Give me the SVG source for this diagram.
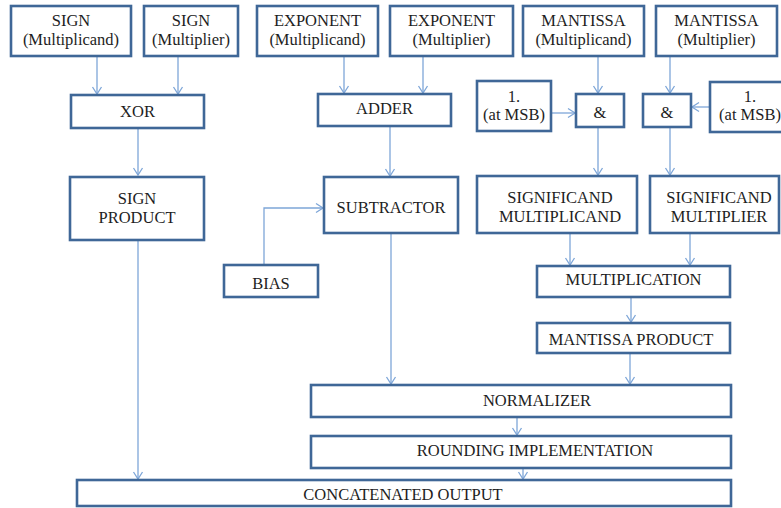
<svg xmlns="http://www.w3.org/2000/svg" width="781" height="508" viewBox="0 0 781 508">
<defs>
<marker id="arr" markerUnits="userSpaceOnUse" markerWidth="12" markerHeight="12" viewBox="-10 -6 12 12" refX="0" refY="0" orient="auto">
<polyline points="-7,-4.5 0,0 -7,4.5" fill="none" stroke="#7ea6d8" stroke-width="1.3"/>
</marker>
</defs>
<style>
.b{fill:#fff;stroke:#3f6797;stroke-width:2.6}
.t{font-size:16.5px;fill:#1e1e1e;text-anchor:middle}
.c{fill:none;stroke:#7ea6d8;stroke-width:1.3;marker-end:url(#arr)}
</style>
<rect width="781" height="508" fill="#fff"/>
<g id="connectors">
<path class="c" d="M97,57V94"/>
<path class="c" d="M178,57V94"/>
<path class="c" d="M138,128V175"/>
<path class="c" d="M138,240V479"/>
<path class="c" d="M344,56V93"/>
<path class="c" d="M423,56V93"/>
<path class="c" d="M390,126V176"/>
<path class="c" d="M264,265V208H323"/>
<path class="c" d="M391,233V384"/>
<path class="c" d="M598,56V93"/>
<path class="c" d="M670,56V93"/>
<path class="c" d="M551,113H575"/>
<path class="c" d="M710,107H692"/>
<path class="c" d="M598,127V175"/>
<path class="c" d="M670,127V175"/>
<path class="c" d="M570,233V265"/>
<path class="c" d="M690,233V265"/>
<path class="c" d="M631,297V322"/>
<path class="c" d="M630,353V384"/>
<path class="c" d="M517,417V435"/>
<path class="c" d="M523,468V479"/>
</g>
<g font-family="Liberation Serif, serif">
<g id="sign-multiplicand"><rect class="b" x="11" y="6" width="120" height="50"/><text class="t" x="71" y="26">SIGN</text><text class="t" x="71" y="45">(Multiplicand)</text></g>
<g id="sign-multiplier"><rect class="b" x="144" y="6" width="94" height="50"/><text class="t" x="191" y="26">SIGN</text><text class="t" x="191" y="45">(Multiplier)</text></g>
<g id="exp-multiplicand"><rect class="b" x="257" y="6" width="121" height="50"/><text class="t" x="317.5" y="26">EXPONENT</text><text class="t" x="317.5" y="45">(Multiplicand)</text></g>
<g id="exp-multiplier"><rect class="b" x="390" y="6" width="123" height="50"/><text class="t" x="451.5" y="26">EXPONENT</text><text class="t" x="451.5" y="45">(Multiplier)</text></g>
<g id="mant-multiplicand"><rect class="b" x="523" y="6" width="121" height="50"/><text class="t" x="583.5" y="26">MANTISSA</text><text class="t" x="583.5" y="45">(Multiplicand)</text></g>
<g id="mant-multiplier"><rect class="b" x="656" y="6" width="121" height="50"/><text class="t" x="716.5" y="26">MANTISSA</text><text class="t" x="716.5" y="45">(Multiplier)</text></g>
<g id="xor"><rect class="b" x="71" y="95" width="133" height="33"/><text class="t" x="137.5" y="117">XOR</text></g>
<g id="adder"><rect class="b" x="318" y="94" width="133" height="32"/><text class="t" x="384.5" y="114">ADDER</text></g>
<g id="one-msb-left"><rect class="b" x="477" y="81" width="74" height="50"/><text class="t" x="514" y="102">1.</text><text class="t" x="514" y="120">(at MSB)</text></g>
<g id="and-left"><rect class="b" x="576" y="94" width="48" height="33"/><text class="t" x="600" y="118">&amp;</text></g>
<g id="and-right"><rect class="b" x="643" y="94" width="48" height="33"/><text class="t" x="667" y="118">&amp;</text></g>
<g id="one-msb-right"><rect class="b" x="710" y="82" width="80" height="50"/><text class="t" x="750" y="102">1.</text><text class="t" x="750" y="120">(at MSB)</text></g>
<g id="sign-product"><rect class="b" x="70" y="177" width="134" height="63"/><text class="t" x="137" y="204">SIGN</text><text class="t" x="137" y="223">PRODUCT</text></g>
<g id="subtractor"><rect class="b" x="324" y="177" width="134" height="56"/><text class="t" x="391" y="213">SUBTRACTOR</text></g>
<g id="bias"><rect class="b" x="224" y="265" width="94" height="32"/><text class="t" x="271" y="289">BIAS</text></g>
<g id="significand-multiplicand"><rect class="b" x="477" y="176" width="160" height="57"/><text class="t" x="560" y="203">SIGNIFICAND</text><text class="t" x="560" y="222">MULTIPLICAND</text></g>
<g id="significand-multiplier"><rect class="b" x="650" y="176" width="129" height="57"/><text class="t" x="719" y="203">SIGNIFICAND</text><text class="t" x="719" y="222">MULTIPLIER</text></g>
<g id="multiplication"><rect class="b" x="537" y="266" width="193" height="31"/><text class="t" x="633.5" y="285">MULTIPLICATION</text></g>
<g id="mantissa-product"><rect class="b" x="537" y="323" width="193" height="30"/><text class="t" x="631" y="345">MANTISSA PRODUCT</text></g>
<g id="normalizer"><rect class="b" x="311" y="385" width="420" height="32"/><text class="t" x="537" y="406">NORMALIZER</text></g>
<g id="rounding"><rect class="b" x="311" y="436" width="420" height="32"/><text class="t" x="535" y="456">ROUNDING IMPLEMENTATION</text></g>
<g id="concatenated-output"><rect class="b" x="77" y="480" width="654" height="26"/><text class="t" x="403" y="500">CONCATENATED OUTPUT</text></g>
</g>
</svg>
